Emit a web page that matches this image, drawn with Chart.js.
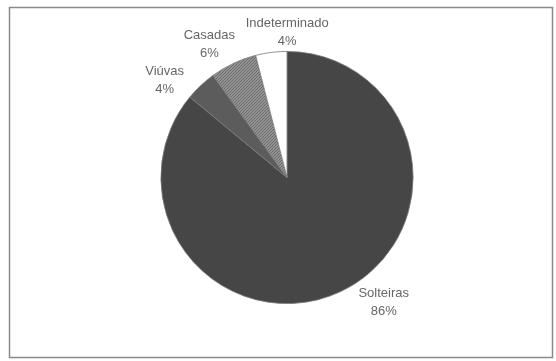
<!DOCTYPE html>
<html>
<head>
<meta charset="utf-8">
<script src="https://cdn.jsdelivr.net/npm/chart.js@4/dist/chart.umd.min.js"></script>
<style>
  html, body { margin: 0; padding: 0; background: #fff; }
  #wrap { width: 556px; height: 361px; position: relative; }
</style>
</head>
<body>
<div id="wrap"><canvas id="chart1"></canvas></div>
<script>
"use strict";
const categories = ["Solteiras", "Viúvas", "Casadas", "Indeterminado"];
const shares = [86, 4, 6, 4];

// label placement relative to the outer edge of each slice (dx, dy)
const labelShift = [[43, 11], [-36, -5], [-24, -19], [16, -20]];

// fine stippled grey for "Casadas"
function stipple() {
    const c = document.createElement("canvas");
    c.width = 3;
    c.height = 3;
    const g = c.getContext("2d");
    g.fillStyle = "#939393";
    g.fillRect(0, 0, 3, 3);
    g.fillStyle = "#6a6a6a";
    g.fillRect(0, 0, 1, 1);
    g.fillRect(2, 1, 1, 1);
    g.fillRect(1, 2, 1, 1);
    return g.createPattern(c, "repeat");
}

const frame = {
    id: "frame",
    beforeDraw(chart) {
        const ctx = chart.ctx;
        ctx.save();
        ctx.fillStyle = "#fff";
        ctx.fillRect(0, 0, chart.width, chart.height);
        ctx.strokeStyle = "#8a8a8a";
        ctx.lineWidth = 1.5;
        ctx.strokeRect(9.5, 7.5, 543, 350);
        ctx.restore();
    }
};

const sliceLabels = {
    id: "sliceLabels",
    afterDatasetsDraw(chart) {
        const ctx = chart.ctx;
        const meta = chart.getDatasetMeta(0);
        ctx.save();
        ctx.font = "13px 'Liberation Sans', Arial, sans-serif";
        ctx.fillStyle = "#666";
        ctx.textAlign = "center";
        ctx.textBaseline = "middle";
        meta.data.forEach((arc, i) => {
            const mid = (arc.startAngle + arc.endAngle) / 2;
            const ex = arc.x + Math.cos(mid) * arc.outerRadius;
            const ey = arc.y + Math.sin(mid) * arc.outerRadius;
            const x = ex + labelShift[i][0];
            const y = ey + labelShift[i][1];
            ctx.fillText(categories[i], x, y - 9);
            ctx.fillText(shares[i] + "%", x, y + 9);
        });
        ctx.restore();
    }
};

new Chart(document.querySelector("#chart1"), {
    type: "pie",
    data: {
        labels: categories,
        datasets: [{
            data: shares,
            backgroundColor: ["#464646", "#5c5c5c", stipple(), "#ffffff"],
            borderColor: "#7a7a7a",
            borderWidth: 0.8,
        }],
    },
    options: {
        responsive: true,
        maintainAspectRatio: false,
        animation: false,
        layout: { padding: { top: 51, bottom: 57, left: 40, right: 22 } },
        plugins: {
            legend: { display: false },
            tooltip: { enabled: false },
        },
    },
    plugins: [frame, sliceLabels],
});
</script>
</body>
</html>
